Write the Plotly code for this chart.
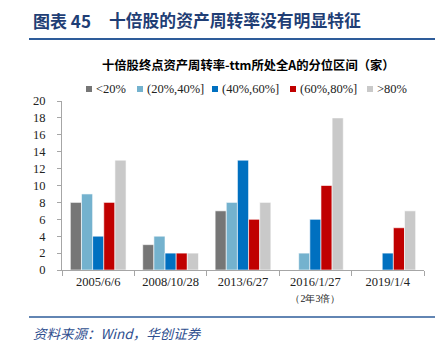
import plotly.graph_objects as go

categories = ["2005/6/6", "2008/10/28", "2013/6/27", "2016/1/27", "2019/1/4"]
tick_labels = ["2005/6/6", "2008/10/28", "2013/6/27",
               "2016/1/27<br><span style='font-size:10px'>（2年3倍）</span>", "2019/1/4"]
series_names = ["<20%", "(20%,40%]", "(40%,60%]", "(60%,80%]", ">80%"]
lt20 = [8, 3, 7, 0, 0]
p20_40 = [9, 4, 8, 2, 0]
p40_60 = [4, 2, 13, 6, 2]
p60_80 = [8, 2, 6, 10, 5]
gt80 = [13, 2, 8, 18, 7]
series_values = [lt20, p20_40, p40_60, p60_80, gt80]
colors = ["#767676", "#74B2CE", "#0070C0", "#C00000", "#C9C9C9"]
y_ticks = list(range(0, 21, 2))

serif = '"Liberation Serif", "Times New Roman", serif'
cjk = '"Noto Sans CJK SC", sans-serif'

L, R, T, B = 62, 21, 101, 77
W, H = 445, 347
PW, PH = W - L - R, H - T - B


def px_x(x):
    return (x - L) / PW


def px_y(y):
    return (H - B - y) / PH


fig = go.Figure()
for name, vals, col in zip(series_names, series_values, colors):
    fig.add_trace(go.Bar(x=categories, y=vals, name=name, showlegend=False,
                         marker=dict(color=col, line=dict(color="white", width=0.6))))

fig.update_layout(
    width=W, height=H,
    margin=dict(l=L, r=R, t=T, b=B),
    paper_bgcolor="white", plot_bgcolor="white",
    barmode="group", bargap=0.23, bargroupgap=0,
    font=dict(family=serif, size=12, color="#000000"),
    showlegend=False,
    xaxis=dict(type="category", tickmode="array", tickvals=categories, ticktext=tick_labels,
               showline=True, linecolor="#A6A6A6", linewidth=1,
               ticks="outside", tickson="boundaries", ticklen=5, tickcolor="#A6A6A6",
               showgrid=False, tickfont=dict(family=serif, size=12.5, color="#222222")),
    yaxis=dict(range=[0, 20], tickvals=y_ticks, showline=True, linecolor="#A6A6A6",
               linewidth=1, ticks="outside", ticklen=4, tickcolor="#A6A6A6",
               ticklabelstandoff=9,
               showgrid=False, zeroline=False,
               tickfont=dict(family=serif, size=12.5, color="#222222")),
)

# manual legend (square marker + label), positioned like the reference
legend_sq_x = [86, 137, 212, 290, 367]
legend_y = 89
for name, col, sx in zip(series_names, colors, legend_sq_x):
    fig.add_shape(type="rect", xref="paper", yref="paper",
                  x0=px_x(sx), x1=px_x(sx + 6), y0=px_y(legend_y + 3), y1=px_y(legend_y - 3),
                  fillcolor=col, line=dict(width=0))
    fig.add_annotation(text=name.replace("<", "&lt;").replace(">", "&gt;"),
                       xref="paper", yref="paper",
                       x=px_x(sx + 8), xanchor="left", y=px_y(legend_y), yanchor="middle",
                       showarrow=False, font=dict(family=serif, size=12.5, color="#222222"))

fig.add_annotation(text="<b>图表 45</b>", xref="paper", yref="paper",
                   x=px_x(31), xanchor="left", y=px_y(20), yanchor="middle",
                   showarrow=False, font=dict(family=cjk, size=17, color="#1F3E75"))
fig.add_annotation(text="<b>十倍股的资产周转率没有明显特征</b>", xref="paper", yref="paper",
                   x=px_x(107), xanchor="left", y=px_y(20), yanchor="middle",
                   showarrow=False, font=dict(family=cjk, size=16.8, color="#1F3E75"))
fig.add_annotation(text="<b>十倍股终点资产周转率-ttm所处全A的分位区间（家）</b>", xref="paper", yref="paper",
                   x=px_x(248), xanchor="center", y=px_y(65), yanchor="middle",
                   showarrow=False, font=dict(family=cjk, size=12.3, color="#000000"))
fig.add_annotation(text="<i>资料来源：Wind，华创证券</i>", xref="paper", yref="paper",
                   x=px_x(31), xanchor="left", y=px_y(333), yanchor="middle",
                   showarrow=False, font=dict(family=cjk, size=13.5, color="#2F4F8F"))

fig.add_shape(type="line", xref="paper", yref="paper",
              x0=px_x(29), x1=px_x(435), y0=px_y(39), y1=px_y(39),
              line=dict(color="#2E5C9A", width=2))
fig.add_shape(type="line", xref="paper", yref="paper",
              x0=px_x(29), x1=px_x(435), y0=px_y(317), y1=px_y(317),
              line=dict(color="#2E5C9A", width=1.5))

fig.write_html("out.html")
